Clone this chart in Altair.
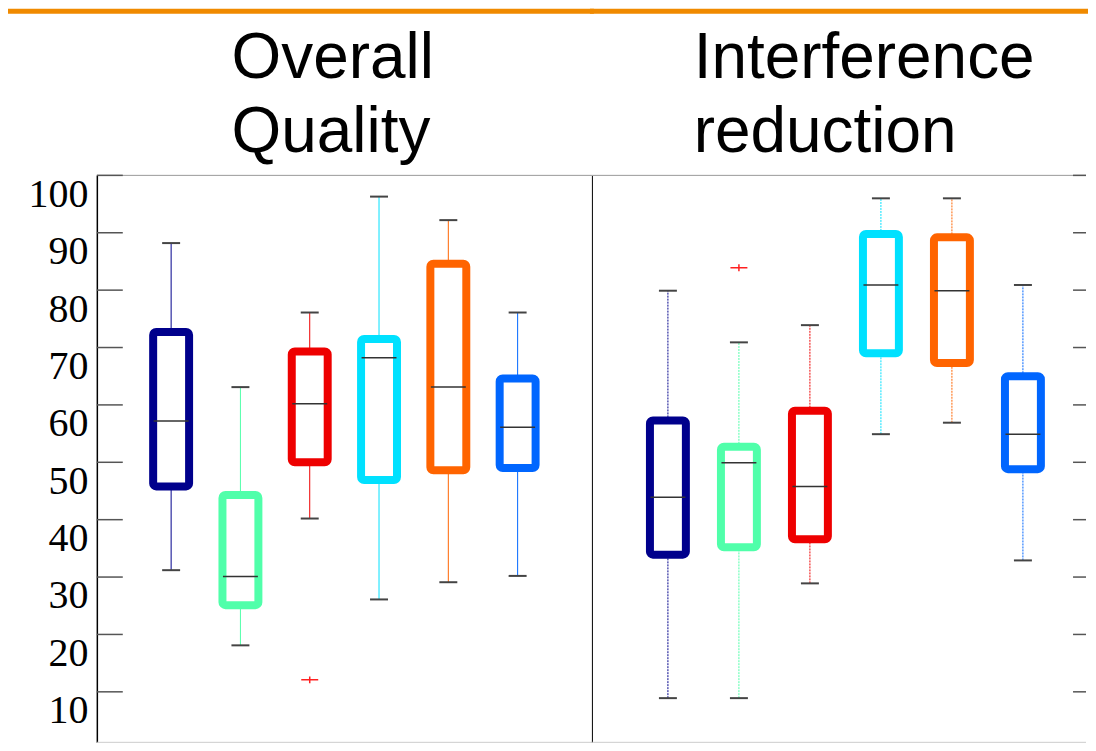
import altair as alt
import pandas as pd

# ---------------- data ----------------
groups = ["1", "2", "3", "4", "5", "6"]
positions = [1, 2, 3, 4, 5, 6]
colors = ["#00008C", "#50FFAA", "#EE0000", "#00E1FF", "#FF6400", "#0066FF"]

titles_left = ["Overall", "Quality"]
titles_right = ["Interference", "reduction"]

# Overall Quality
oq_low = [31.2, 18.1, 40.2, 26.1, 29.1, 30.2]
oq_q1 = [45.8, 25.1, 50.0, 46.9, 48.6, 49.0]
oq_med = [57.2, 30.1, 60.2, 68.2, 63.1, 56.1]
oq_q3 = [72.7, 44.3, 69.3, 71.5, 84.6, 64.6]
oq_high = [88.2, 63.1, 76.1, 96.3, 92.2, 76.1]
oq_out_pos = [3]
oq_out_val = [12.1]

# Interference reduction
ir_low = [8.9, 8.9, 28.9, 54.9, 56.9, 32.9]
ir_q1 = [33.9, 35.2, 36.6, 69.0, 67.3, 48.8]
ir_med = [43.9, 49.9, 45.8, 80.9, 79.9, 54.9]
ir_q3 = [57.3, 52.7, 59.0, 89.8, 89.2, 65.0]
ir_high = [79.9, 70.9, 73.9, 96.0, 96.0, 80.9]
ir_out_pos = [2]
ir_out_val = [83.9]

tick_values = [10, 20, 30, 40, 50, 60, 70, 80, 90, 100]
label_values = [10, 20, 30, 40, 50, 60, 70, 80, 90, 100]

H = 568
W_LEFT = 496
W_RIGHT = 495

color_scale = alt.Scale(domain=groups, range=colors)
yscale = alt.Scale(domain=[1.2, 100], nice=False, zero=False)

HLINE = "M -1 0 L 1 0"
PLUS = "M -1 0 L 1 0 M 0 -0.4 L 0 0.4"


def panel(low, q1, med, q3, high, out_pos, out_val, titles, width, left_axis,
          title_x, dash, xmax):
    df = pd.DataFrame({"pos": positions, "group": groups, "low": low,
                       "q1": q1, "med": med, "q3": q3, "high": high})
    odf = pd.DataFrame({"pos": out_pos, "val": out_val})
    tdf = pd.DataFrame({"v": tick_values})
    one = pd.DataFrame({"k": [0]})

    if left_axis:
        yaxis = alt.Axis(values=label_values, ticks=False, grid=False, title=None,
                         domain=True, domainColor="black", domainWidth=1.5,
                         labelFont="Liberation Serif", labelFontSize=40,
                         labelColor="black", labelPadding=9, labelOffset=19,
                         labelBaseline="middle")
    else:
        yaxis = alt.Axis(values=label_values, ticks=False, grid=False, title=None,
                         labels=False, domain=True, domainColor="black",
                         domainWidth=1)

    def Y(f):
        return alt.Y(f, scale=yscale, axis=yaxis)

    X = alt.X("pos:Q", scale=alt.Scale(domain=[0, xmax], nice=False, zero=False),
              axis=None)
    base = alt.Chart(df)

    orange = alt.Chart(one).mark_rect(color="#F08A00").encode(
        x=alt.value(-89 if left_axis else -2), x2=alt.value(width + 2),
        y=alt.value(-167), y2=alt.value(-162))

    title = alt.Chart(one).mark_text(
        text=titles, align="left", baseline="alphabetic", font="Liberation Sans",
        fontSize=64, lineHeight=75, color="black").encode(
        x=alt.value(title_x), y=alt.value(-98))

    frame_top = alt.Chart(one).mark_rule(color="#999", strokeWidth=1).encode(
        x=alt.value(0), x2=alt.value(width), y=alt.value(0))
    frame_bot = alt.Chart(one).mark_rule(color="#ccc", strokeWidth=1).encode(
        x=alt.value(0), x2=alt.value(width), y=alt.value(H))

    wk = dict(strokeWidth=1)
    if dash:
        wk["strokeDash"] = [2, 1]
    whisk_up = base.mark_rule(**wk).encode(
        x=X, y=Y("q3:Q"), y2="high:Q",
        color=alt.Color("group:N", scale=color_scale, legend=None))
    whisk_dn = base.mark_rule(**wk).encode(
        x=X, y=Y("low:Q"), y2="q1:Q",
        color=alt.Color("group:N", scale=color_scale, legend=None))

    box = base.mark_bar(size=36, fill="white", strokeWidth=8, cornerRadius=3,
                        strokeJoin="round").encode(
        x=X, y=Y("q1:Q"), y2="q3:Q",
        stroke=alt.Color("group:N", scale=color_scale, legend=None))

    cap_hi = base.mark_point(shape=HLINE, size=324, filled=False, opacity=1,
                             strokeWidth=2, color="#444").encode(x=X, y=Y("high:Q"))
    cap_lo = base.mark_point(shape=HLINE, size=324, filled=False, opacity=1,
                             strokeWidth=2, color="#444").encode(x=X, y=Y("low:Q"))
    median = base.mark_point(shape=HLINE, size=1225, filled=False, opacity=1,
                             strokeWidth=1.5, color="#333").encode(x=X, y=Y("med:Q"))

    outl = alt.Chart(odf).mark_point(shape=PLUS, size=289, filled=False, opacity=1,
                                     strokeWidth=1.5, color="#FF2020").encode(
        x=X, y=Y("val:Q"))

    if left_axis:
        tx, tx2 = 0, 26
    else:
        tx, tx2 = width - 13, width
    ticks = alt.Chart(tdf).mark_rule(color="#555", strokeWidth=1.5).encode(
        x=alt.value(tx), x2=alt.value(tx2), y=Y("v:Q"))

    return alt.layer(orange, title, frame_top, frame_bot, ticks, whisk_up,
                     whisk_dn, box, median, cap_hi, cap_lo, outl).properties(
        width=width, height=H)


left = panel(oq_low, oq_q1, oq_med, oq_q3, oq_high, oq_out_pos, oq_out_val,
             titles_left, W_LEFT, True, 135, False, 7)
right = panel(ir_low, ir_q1, ir_med, ir_q3, ir_high, ir_out_pos, ir_out_val,
              titles_right, W_RIGHT, False, 102, True, W_RIGHT / 72.6)

chart = alt.hconcat(left, right, spacing=0, bounds="flush").properties(
    padding=0).configure_view(strokeWidth=0)

chart.save("out.html", embed_options={"renderer": "svg", "actions": False})
